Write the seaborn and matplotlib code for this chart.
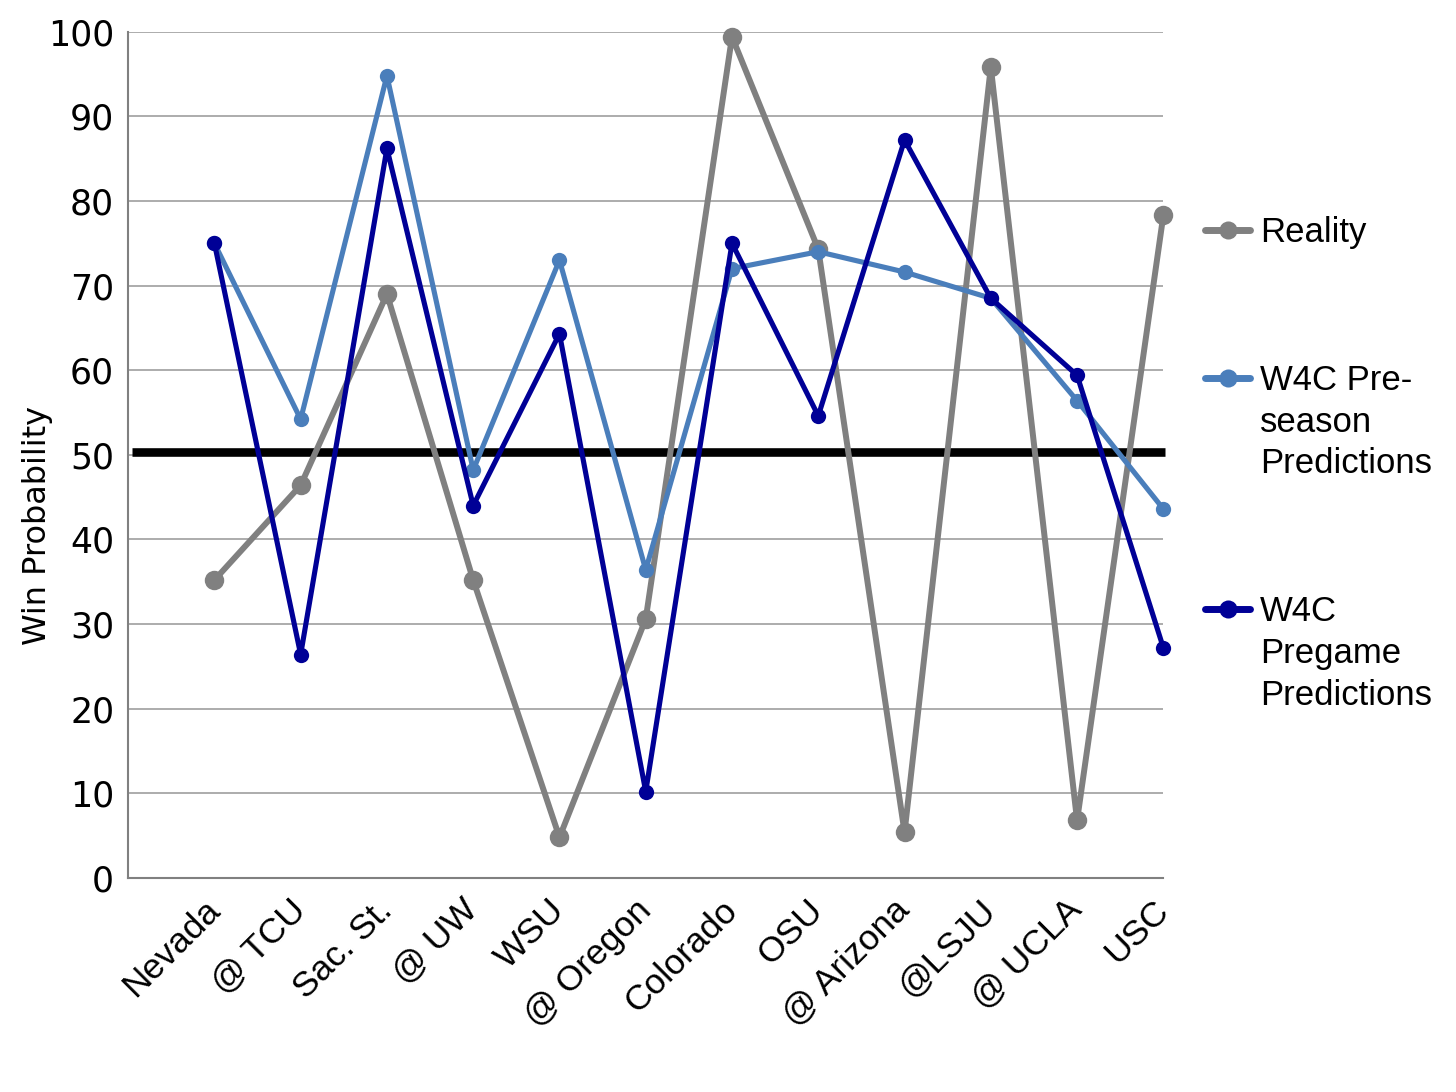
import numpy as np
import matplotlib
matplotlib.use("Agg")
import matplotlib.pyplot as plt
import seaborn as sns
from matplotlib.lines import Line2D
from matplotlib.legend_handler import HandlerLine2D

games = ['Nevada', '@ TCU', 'Sac. St.', '@ UW', 'WSU', '@ Oregon', 'Colorado',
         'OSU', '@ Arizona', '@LSJU', '@ UCLA', 'USC']
reality = [35.2, 46.4, 69.0, 35.2, 4.8, 30.6, 99.4, 74.3, 5.4, 95.8, 6.8, 78.3]
preseason = [75.0, 54.2, 94.8, 48.2, 73.0, 36.4, 72.0, 74.0, 71.6, 68.5, 56.4, 43.6]
pregame = [75.0, 26.4, 86.2, 44.0, 64.3, 10.2, 75.0, 54.6, 87.2, 68.5, 59.4, 27.2]
series_names = ['Reality', 'W4C Pre-\nseason\nPredictions', 'W4C\nPregame\nPredictions']
colors = ['#808080', '#4a7ebb', '#000096']
threshold = 50
yticks = list(range(0, 101, 10))


class FirstLineHandler(HandlerLine2D):
    # put the legend marker beside the first line of a multi-line label
    def __init__(self, nlines, **kw):
        super().__init__(**kw)
        self.nlines = nlines

    def create_artists(self, legend, orig_handle, xdescent, ydescent,
                       width, height, fontsize, trans):
        artists = super().create_artists(legend, orig_handle, xdescent, ydescent,
                                         width, height, fontsize, trans)
        shift = 1.3 * fontsize * (self.nlines - 1) / 2
        for a in artists:
            a.set_ydata(np.asarray(a.get_ydata(), dtype=float) + shift)
        return artists


sns.set_style('white')
plt.rcParams['font.family'] = ['Liberation Sans', 'DejaVu Sans']
plt.rcParams['text.color'] = 'black'
plt.rcParams['xtick.labelcolor'] = 'black'
plt.rcParams['ytick.labelcolor'] = 'black'
plt.rcParams['axes.labelcolor'] = 'black'

fig, ax = plt.subplots(figsize=(14.56, 10.92), dpi=100)
fig.subplots_adjust(left=0.088, right=0.799, top=0.971, bottom=0.196)

x = np.arange(len(games))
ax.axhline(threshold + 0.3, xmin=0.004, xmax=1.002, color='black', linewidth=6.2,
           zorder=2, solid_capstyle='butt', clip_on=False)

sns.lineplot(x=x, y=reality, ax=ax, color=colors[0], linewidth=4.3, marker='o',
             markersize=14, markeredgewidth=0, zorder=3)
sns.lineplot(x=x, y=preseason, ax=ax, color=colors[1], linewidth=3.7, marker='o',
             markersize=11, markeredgewidth=0, zorder=4)
sns.lineplot(x=x, y=pregame, ax=ax, color=colors[2], linewidth=3.7, marker='o',
             markersize=11, markeredgewidth=0, zorder=5)
for line in ax.get_lines():
    line.set_clip_on(False)

ax.set_xlim(-1, len(games) - 1)
ax.set_ylim(0, 100)
ax.set_yticks(yticks)
ax.set_yticklabels([str(v) for v in yticks], family='DejaVu Sans', fontsize=25)
ax.set_xticks(np.arange(-1, len(games)))
ax.set_xticklabels([''] + games, fontsize=25.5, rotation=45, ha='right',
                   va='center', rotation_mode='anchor')
ax.tick_params(axis='x', length=6.5, width=1.5, color='#808080', pad=13)
ax.tick_params(axis='y', length=7, width=1.5, color='#808080', pad=3)

ax.grid(axis='y', color='#a6a6a6', linewidth=1.3)
ax.grid(axis='x', visible=False)
ax.set_axisbelow(True)
for side in ['top', 'right']:
    ax.spines[side].set_visible(False)
for side in ['left', 'bottom']:
    ax.spines[side].set_color('#808080')
    ax.spines[side].set_linewidth(1.5)

ax.set_xlabel('')
ax.set_ylabel('Win Probability', family='DejaVu Sans', fontsize=23)
ax.yaxis.set_label_coords(-0.073, 0.417)

# legend handles drawn a bit heavier than the plotted lines, like the original
handles = [Line2D([], [], color=c, linewidth=5, marker='o', markersize=13,
                  markeredgewidth=0) for c in colors]
leg = fig.legend(handles, series_names, loc='upper left', bbox_to_anchor=(0.8276, 0.802),
                 frameon=False, fontsize=25, handlelength=1.3, handletextpad=0.29,
                 labelspacing=3.3, borderpad=0, borderaxespad=0,
                 handler_map={handles[1]: FirstLineHandler(3),
                              handles[2]: FirstLineHandler(3)})
for t in leg.get_texts():
    t.set_linespacing(1.34)

fig.savefig('out.png', dpi=100)
